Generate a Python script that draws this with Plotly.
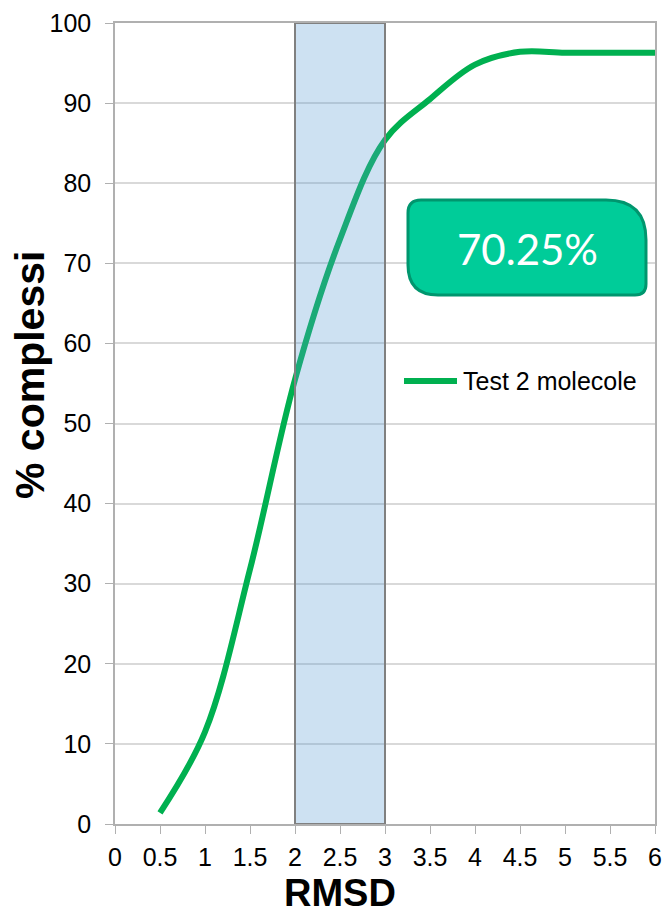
import plotly.graph_objects as go

# ---- data ----
rmsd = [0.5, 1.0, 1.5, 2.0, 2.5, 3.0, 3.5, 4.0, 4.5, 5.0, 5.5, 6.0]
pct_complessi = [1.4, 11.5, 31.8, 55.5, 73.0, 85.4, 90.5, 94.8, 96.4, 96.3, 96.3, 96.3]
series_name = "Test 2 molecole"
x_ticks = [0, 0.5, 1, 1.5, 2, 2.5, 3, 3.5, 4, 4.5, 5, 5.5, 6]
x_tick_labels = ["0", "0.5", "1", "1.5", "2", "2.5", "3", "3.5", "4", "4.5", "5", "5.5", "6"]
y_ticks = [0, 10, 20, 30, 40, 50, 60, 70, 80, 90, 100]
band_range = [2, 3]
callout_text = "70.25%"

W, H = 665, 916
PLOT_X0, PLOT_X1, PLOT_Y0, PLOT_Y1 = 115, 655, 23, 824   # page pixels
L, T, R, B = PLOT_X0, PLOT_Y0, W - PLOT_X1, H - PLOT_Y1
PW, PH = PLOT_X1 - PLOT_X0, PLOT_Y1 - PLOT_Y0

def px(xp):  # page pixel x -> paper
    return (xp - PLOT_X0) / PW

def py(yp):  # page pixel y -> paper
    return (PLOT_Y1 - yp) / PH

GREEN = "#00B050"
FONT = "Liberation Sans, Arial, sans-serif"

fig = go.Figure()
fig.add_trace(go.Scatter(
    x=rmsd, y=pct_complessi, mode="lines", name=series_name,
    line=dict(color=GREEN, width=6, shape="spline", smoothing=1.0),
    showlegend=False, hoverinfo="x+y",
))

shapes = []
# highlighted RMSD band
shapes.append(dict(type="rect", xref="x", yref="y", x0=band_range[0], x1=band_range[1],
                   y0=0, y1=100, layer="above",
                   fillcolor="rgba(91,155,213,0.30)", line=dict(color="#808080", width=2)))

# callout box with asymmetric rounded corners
bx0, bx1, by0, by1 = 408, 646, 200, 295
r_tl, r_tr, r_br, r_bl = 13, 40, 11, 30
def P(x, y):
    return f"{px(x):.5f},{py(y):.5f}"
path = (f"M {P(bx0 + r_tl, by0)} L {P(bx1 - r_tr, by0)} "
        f"Q {P(bx1, by0)} {P(bx1, by0 + r_tr)} "
        f"L {P(bx1, by1 - r_br)} Q {P(bx1, by1)} {P(bx1 - r_br, by1)} "
        f"L {P(bx0 + r_bl, by1)} Q {P(bx0, by1)} {P(bx0, by1 - r_bl)} "
        f"L {P(bx0, by0 + r_tl)} Q {P(bx0, by0)} {P(bx0 + r_tl, by0)} Z")
shapes.append(dict(type="path", xref="paper", yref="paper", path=path, layer="above",
                   fillcolor="#00CC99", line=dict(color="#00966E", width=3)))

# manual legend sample
shapes.append(dict(type="line", xref="paper", yref="paper", x0=px(404), x1=px(457),
                   y0=py(381), y1=py(381), line=dict(color=GREEN, width=6), layer="above"))

annotations = [
    dict(text=callout_text, xref="paper", yref="paper", x=px(527), y=py(249),
         showarrow=False, xanchor="center", yanchor="middle",
         font=dict(family="Lato, sans-serif", size=42, color="white")),
    dict(text=series_name, xref="paper", yref="paper", x=px(461), y=py(381),
         showarrow=False, xanchor="left", yanchor="middle",
         font=dict(family=FONT, size=25, color="black")),
    dict(text="<b>RMSD</b>", xref="paper", yref="paper", x=px(340), y=py(893),
         showarrow=False, xanchor="center", yanchor="middle",
         font=dict(family=FONT, size=38, color="black")),
    dict(text="<b>% complessi</b>", xref="paper", yref="paper", x=px(30), y=py(375),
         showarrow=False, xanchor="center", yanchor="middle", textangle=-90,
         font=dict(family=FONT, size=41, color="black")),
]

fig.update_layout(
    width=W, height=H, autosize=False,
    margin=dict(l=L, r=R, t=T, b=B, pad=0, autoexpand=False),
    paper_bgcolor="white", plot_bgcolor="white",
    shapes=shapes, annotations=annotations,
    font=dict(family=FONT, size=25, color="black"),
    xaxis=dict(range=[0, 6], tickvals=x_ticks, ticktext=x_tick_labels, automargin=False,
               showgrid=False, zeroline=False, showline=True, linecolor="#B0B0B0",
               linewidth=1.5, mirror=True, ticks="outside", ticklen=8, tickcolor="#B0B0B0",
               ticklabelstandoff=2,
               tickfont=dict(family=FONT, size=25, color="black")),
    yaxis=dict(range=[0, 100], tickvals=y_ticks, automargin=False,
               showgrid=True, gridcolor="#D9D9D9", gridwidth=1.5, zeroline=False,
               showline=True, linecolor="#B0B0B0", linewidth=1.5, mirror=True,
               ticks="outside", ticklen=8, tickcolor="#B0B0B0",
               ticklabelstandoff=9,
               tickfont=dict(family=FONT, size=25, color="black")),
)

fig.write_html("out.html", config={"displayModeBar": False},
               post_script="document.body.style.margin='0px';document.body.style.overflow='hidden';")
